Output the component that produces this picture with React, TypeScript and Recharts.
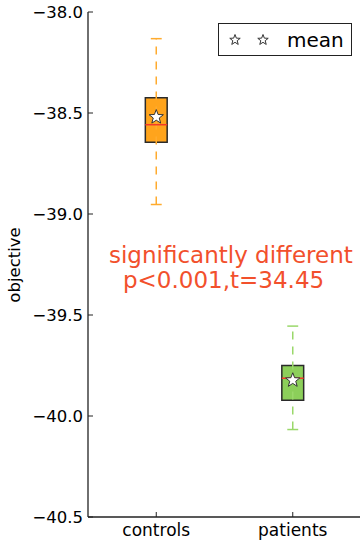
import React from 'react';
import {
  ComposedChart,
  XAxis,
  YAxis,
  Scatter,
  ReferenceArea,
  ReferenceLine,
  Legend,
} from 'recharts';

// box plot stats
const groups = ['controls', 'patients'];
const positions = [1, 2];
const whiskerLow = [-38.953, -40.067];
const q1 = [-38.645, -39.922];
const medians = [-38.558, -39.813];
const q3 = [-38.425, -39.75];
const whiskerHigh = [-38.132, -39.555];
const means = [-38.52, -39.823];
const yTicks = [-38.0, -38.5, -39.0, -39.5, -40.0, -40.5];

const boxFill = ['#ffa41c', '#8ccf5a'];
const whiskerColor = ['#ffab2e', '#9ad86a'];
const FONT = '"DejaVu Sans", sans-serif';
const AXIS = '#222';
const BOX_HALF = 0.08;
const CAP_HALF = 0.04;

const meanData = positions.map((x, i) => ({ x, y: means[i] }));

const fmt = (v: number) => (v < 0 ? '\u2212' : '') + Math.abs(v).toFixed(1);

function starPoints(cx: number, cy: number, r: number) {
  const pts: string[] = [];
  for (let i = 0; i < 10; i++) {
    const rad = i % 2 === 0 ? r : r * 0.42;
    const a = -Math.PI / 2 + (i * Math.PI) / 5;
    pts.push(`${cx + rad * Math.cos(a)},${cy + rad * Math.sin(a)}`);
  }
  return pts.join(' ');
}

const Star = (props: any) => (
  <polygon points={starPoints(props.cx, props.cy, 7.5)} fill="#fff" stroke="#333" strokeWidth={1} />
);

const LeftTick = ({ x, y, payload }: any) => (
  <g>
    <line x1={x} x2={x + 5} y1={y} y2={y} stroke={AXIS} />
    <text x={x - 5} y={y} dy={6} textAnchor="end" fontSize={16.5} fontFamily={FONT} fill="#000">
      {fmt(payload.value)}
    </text>
  </g>
);

const RightTick = ({ x, y }: any) => <line x1={x} x2={x - 5} y1={y} y2={y} stroke={AXIS} />;

const BottomTick = ({ x, y, payload }: any) => (
  <g>
    <line x1={x} x2={x} y1={y} y2={y - 5} stroke={AXIS} />
    <text x={x} y={y + 19} textAnchor="middle" fontSize={17} fontFamily={FONT} fill="#000">
      {groups[positions.indexOf(payload.value)]}
    </text>
  </g>
);

const TopTick = ({ x, y }: any) => <line x1={x} x2={x} y1={y} y2={y + 5} stroke={AXIS} />;

const MeanLegend = () => (
  <svg width={134} height={33}>
    <rect x={0.5} y={0.5} width={133} height={32} fill="#fff" stroke={AXIS} />
    <polygon points={starPoints(17, 17, 5.5)} fill="#fff" stroke="#333" />
    <polygon points={starPoints(45, 17, 5.5)} fill="#fff" stroke="#333" />
    <text x={69} y={24} fontSize={20} fontFamily={FONT} fill="#000">mean</text>
  </svg>
);

export default function App() {
  return (
    <div style={{ width: 360, height: 545, overflow: 'hidden', position: 'relative' }}>
      <style>{`body{margin:0}`}</style>
      <ComposedChart width={362} height={545} margin={{ top: 12, right: 1, bottom: 0, left: 0 }}>
        <XAxis
          type="number"
          dataKey="x"
          domain={[0.5, 2.5]}
          ticks={positions}
          height={28}
          tickSize={0}
          tickMargin={0}
          tickLine={false}
          tick={<BottomTick />}
          axisLine={{ stroke: AXIS, strokeWidth: 1.3 }}
        />
        <XAxis
          xAxisId="top"
          orientation="top"
          type="number"
          domain={[0.5, 2.5]}
          ticks={positions}
          height={0}
          tickSize={0}
          tickMargin={0}
          tickLine={false}
          tick={<TopTick />}
          axisLine={{ stroke: AXIS, strokeWidth: 1.3 }}
        />
        <YAxis
          type="number"
          dataKey="y"
          domain={[-40.5, -38]}
          ticks={yTicks}
          width={88}
          tickSize={0}
          tickMargin={0}
          tickLine={false}
          tick={<LeftTick />}
          axisLine={{ stroke: AXIS, strokeWidth: 1.3 }}
        />
        <YAxis
          yAxisId="right"
          orientation="right"
          type="number"
          domain={[-40.5, -38]}
          ticks={yTicks}
          width={0}
          tickSize={0}
          tickMargin={0}
          tickLine={false}
          tick={<RightTick />}
          axisLine={{ stroke: AXIS, strokeWidth: 1.3 }}
        />

        {/* whiskers */}
        {positions.map((p, i) => (
          <ReferenceLine
            key={`wl${i}`}
            segment={[{ x: p, y: whiskerLow[i] }, { x: p, y: whiskerHigh[i] }]}
            stroke={whiskerColor[i]}
            strokeWidth={1.5}
            strokeDasharray="8 7"
          />
        ))}
        {positions.map((p, i) => (
          <ReferenceLine
            key={`ch${i}`}
            segment={[{ x: p - CAP_HALF, y: whiskerHigh[i] }, { x: p + CAP_HALF, y: whiskerHigh[i] }]}
            stroke={whiskerColor[i]}
            strokeWidth={1.5}
          />
        ))}
        {positions.map((p, i) => (
          <ReferenceLine
            key={`cl${i}`}
            segment={[{ x: p - CAP_HALF, y: whiskerLow[i] }, { x: p + CAP_HALF, y: whiskerLow[i] }]}
            stroke={whiskerColor[i]}
            strokeWidth={1.5}
          />
        ))}

        {/* boxes */}
        {positions.map((p, i) => (
          <ReferenceArea
            key={`b${i}`}
            x1={p - BOX_HALF}
            x2={p + BOX_HALF}
            y1={q1[i]}
            y2={q3[i]}
            fill={boxFill[i]}
            fillOpacity={1}
            stroke="#2a2a2a"
            strokeWidth={1.5}
          />
        ))}
        {positions.map((p, i) => (
          <ReferenceLine
            key={`m${i}`}
            segment={[{ x: p - BOX_HALF, y: medians[i] }, { x: p + BOX_HALF, y: medians[i] }]}
            stroke="#f23a2a"
            strokeWidth={1.5}
          />
        ))}

        <Scatter data={meanData} shape={<Star />} isAnimationActive={false} />

        <Legend
          layout="horizontal"
          verticalAlign="middle"
          align="center"
          content={() => <MeanLegend />}
          wrapperStyle={{ top: 23, left: 218, width: 134, height: 33 }}
        />

        <text x={109} y={263} fontSize={23} fontFamily={FONT} fill="#f2502c">
          significantly different
        </text>
        <text x={123} y={288} fontSize={23} fontFamily={FONT} fill="#f2502c">
          p&lt;0.001,t=34.45
        </text>
        <text
          x={0}
          y={0}
          transform="translate(20,265) rotate(-90)"
          textAnchor="middle"
          fontSize={16.5}
          fontFamily={FONT}
          fill="#000"
        >
          objective
        </text>
      </ComposedChart>
    </div>
  );
}
